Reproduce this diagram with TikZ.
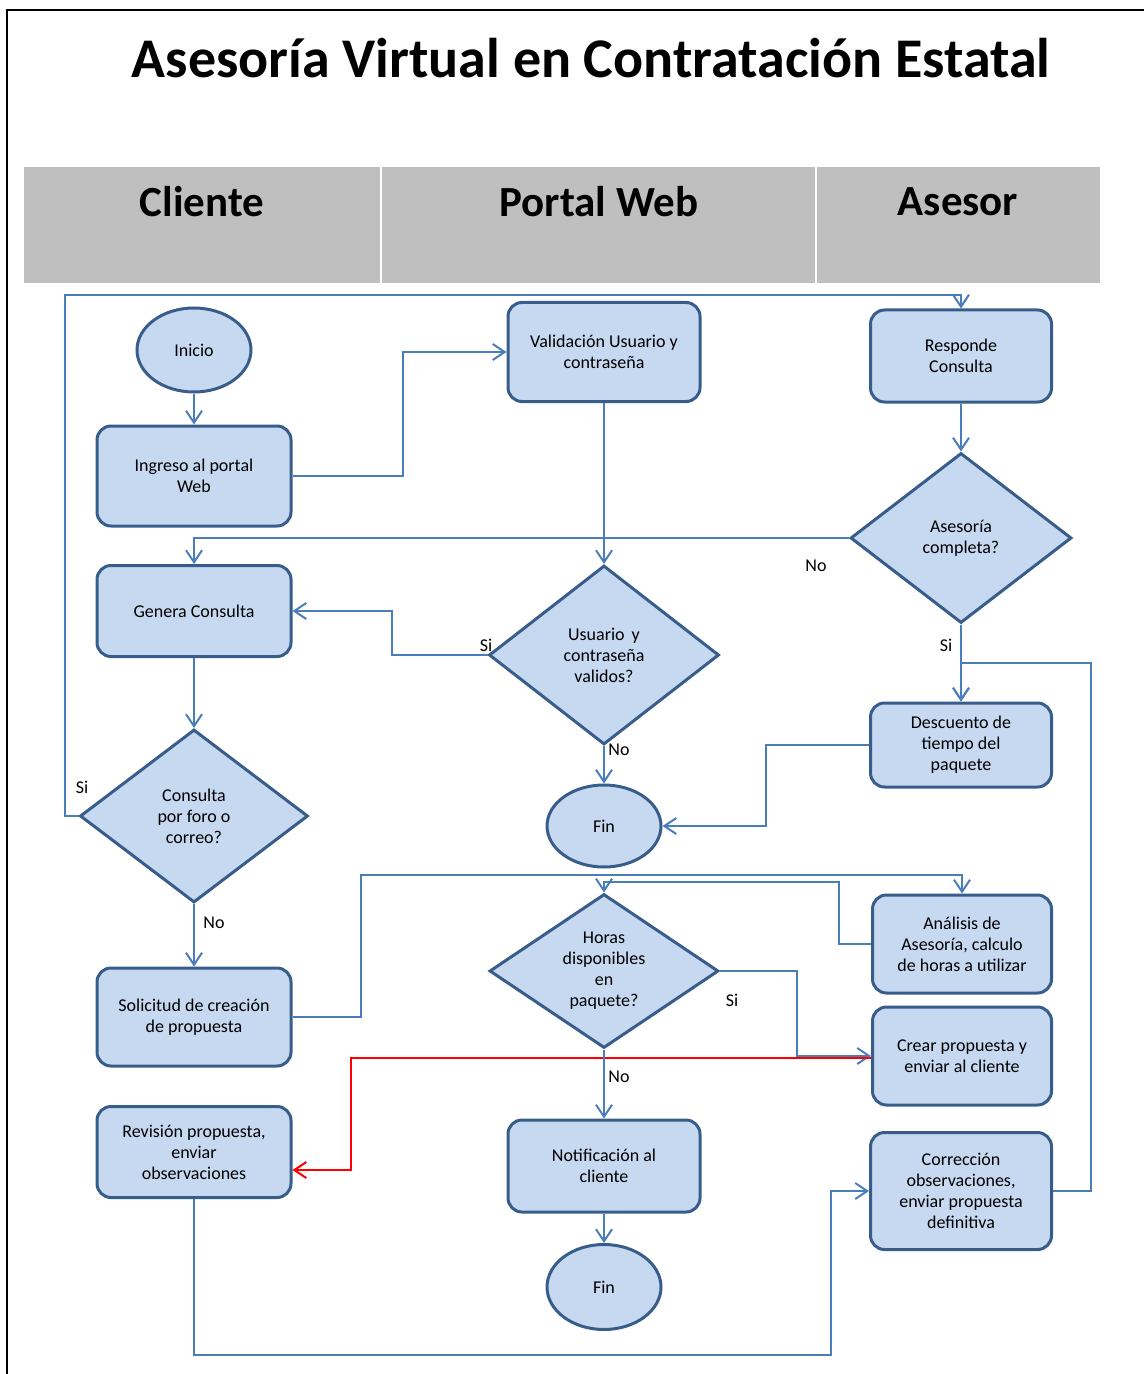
\documentclass[tikz,border=0pt]{standalone}
\usepackage{fontspec}
\setmainfont{Carlito}
\usetikzlibrary{shapes.geometric, arrows.meta, positioning}

\definecolor{boxfill}{RGB}{198,217,241}
\definecolor{boxline}{RGB}{56,93,138}
\definecolor{flowline}{RGB}{74,126,187}
\definecolor{lanegray}{RGB}{191,191,191}

\begin{document}
\begin{tikzpicture}[x=0.5pt, y=-0.5pt,
        proc/.style={rectangle, rounded corners=7pt, draw=boxline, fill=boxfill, line width=1.5pt, align=center, font=\fontsize{9}{10.5}\selectfont, minimum width=97pt, minimum height=49pt},
        dec/.style={diamond, aspect=1.3, draw=boxline, fill=boxfill, line width=1.5pt, align=center, font=\fontsize{9}{10.5}\selectfont, inner sep=0pt},
        term/.style={ellipse, draw=boxline, fill=boxfill, line width=1.5pt, font=\fontsize{9}{10.5}\selectfont, minimum width=57pt, minimum height=42pt},
        line/.style={draw=flowline, line width=1pt, -{Straight Barb[length=6pt, width=8pt]}},
        redline/.style={line, draw=red},
        lbl/.style={font=\fontsize{9}{10.5}\selectfont, inner sep=0pt},
        lane/.style={font=\bfseries\fontsize{21.5}{24}\selectfont}
    ]
    \useasboundingbox (0,0) rectangle (1144,1374);

    % Frame and title
    \draw[line width=1pt] (1144,10) -- (7,10) -- (7,1374);
    \node[font=\bfseries\fontsize{28}{30}\selectfont] (title) at (591,58) {Asesoría Virtual en Contratación Estatal};

    % Lanes
    \fill[lanegray] (24,167) rectangle (1100,283);
    \draw[white, line width=1pt] (381,167) -- (381,283) (816,167) -- (816,283);
    \node[lane] (lcli) at (202,202) {Cliente};
    \node[lane] (lweb) at (599,202) {Portal Web};
    \node[lane] (lase) at (958,202) {Asesor};

    % Cliente
    \node[term] (inicio) at (194,350) {Inicio};
    \node[proc, minimum height=50pt] (ingreso) at (194,476) {Ingreso al portal\\Web};
    \node[proc, minimum height=45.5pt] (genera) at (194,611) {Genera Consulta};
    \node[dec, minimum width=114pt, minimum height=86.5pt] (foro) at (194,816) {Consulta\\por foro o\\correo?};
    \node[proc] (solic) at (194,1017) {Solicitud de creación\\de propuesta};
    \node[proc, minimum height=45.5pt] (revis) at (194,1152) {Revisión propuesta,\\enviar\\observaciones};

    % Portal Web
    \node[proc, minimum width=96pt, minimum height=49.5pt] (valid) at (604,352) {Validación Usuario y\\contraseña};
    \node[dec, minimum width=115pt, minimum height=89.5pt] (usuval) at (604,655) {Usuario\, y\\contraseña\\validos?};
    \node[term, minimum height=41pt] (fin1) at (604,826) {Fin};
    \node[dec, aspect=1.5, minimum width=114.5pt, minimum height=77pt] (horas) at (604,971) {Horas\\disponibles\\en\\paquete?};
    \node[proc, minimum width=96pt, minimum height=46pt] (notif) at (604,1166) {Notificación al\\cliente};
    \node[term, minimum height=42.5pt] (fin2) at (604,1287) {Fin};

    % Asesor
    \node[proc, minimum width=90.5pt, minimum height=46pt] (resp) at (961,356) {Responde\\Consulta};
    \node[dec, minimum width=110.5pt, minimum height=85pt] (ascomp) at (961,538) {Asesoría\\completa?};
    \node[proc, minimum width=90.5pt, minimum height=42pt] (desc) at (961,745) {Descuento de\\tiempo del\\paquete};
    \node[proc, minimum width=89.5pt] (analisis) at (962,944) {Análisis de\\Asesoría, calculo\\de horas a utilizar};
    \node[proc, minimum width=89.5pt] (crear) at (962,1056) {Crear propuesta y\\enviar al cliente};
    \node[proc, minimum width=90.5pt, minimum height=58.5pt] (correc) at (961,1191) {Corrección\\observaciones,\\enviar propuesta\\definitiva};

    % Turning points
    \coordinate (toprun) at (65,295);
    \coordinate (midrun) at (361,875);
    \coordinate (hrsrun) at (839,882);
    \coordinate (botrun) at (831,1355);
    \coordinate (rightrun) at (1091,663);

    % Connectors
    \draw[line] (inicio) -- (ingreso);
    \draw[line] (ingreso.east) -- ++(110,0) |- (valid.west);
    \draw[line] (valid) -- (usuval);
    \draw[line] (usuval.west) -- ++(-96,0) |- (genera.east);
    \draw[line] (usuval) -- (fin1);
    \draw[line] (genera) -- (foro);
    \draw[line] (foro.west) -| (toprun) -| (resp.north);
    \draw[line] (foro) -- (solic);
    \draw[line] (resp) -- (ascomp);
    \draw[line] (ascomp.west) -| (genera.north);
    \draw[line] (ascomp) -- (desc);
    \draw[line] (desc.west) -- ++(-103,0) |- (fin1.east);
    \draw[line] (solic.east) -| (midrun) -| (analisis.north);
    \draw[line] (analisis.west) -| (hrsrun) -| (horas.north);
    \draw[line] (horas.east) -- ++(77,0) |- (crear.west);
    \draw[redline] ([yshift=-1pt]crear.west) -- ++(-520,0) |- ([yshift=-9pt]revis.east);
    \draw[line] (horas) -- (notif);
    \draw[line] (notif) -- (fin2);
    \draw[line] (revis.south) |- (botrun) |- (correc.west);
    \draw[line] (correc.east) -| (rightrun) -| (desc.north);

    % Branch labels
    \node[lbl] (si1) at (486,645) {Si};
    \node[lbl] (no1) at (619,750) {No};
    \node[lbl] (no2) at (816,566) {No};
    \node[lbl] (si2) at (946,645) {Si};
    \node[lbl] (si3) at (82,787) {Si};
    \node[lbl] (no3) at (214,923) {No};
    \node[lbl] (si4) at (732,1000) {Si};
    \node[lbl] (no4) at (619,1077) {No};
\end{tikzpicture}
\end{document}
